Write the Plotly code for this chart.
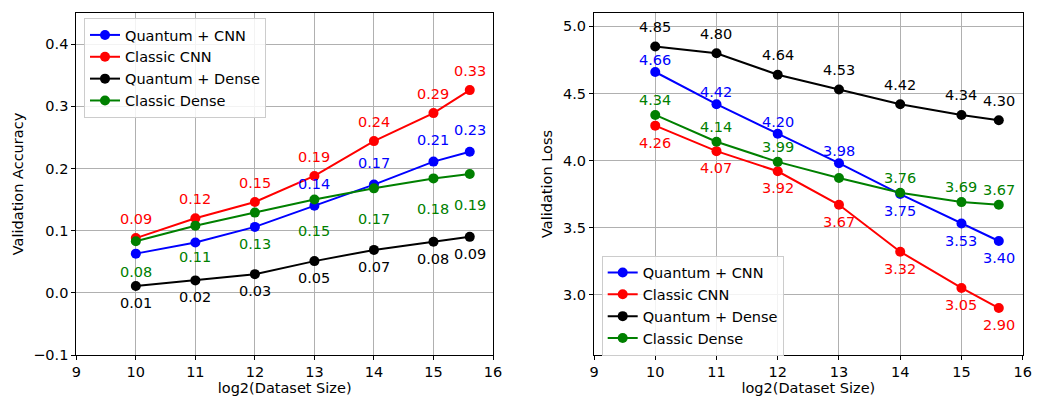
import numpy as np
import plotly.graph_objects as go

# ---------------- data ----------------
dataset_sizes = [1024, 2048, 4096, 8192, 16384, 32768, 50000]
series_names = ["Quantum + CNN", "Classic CNN", "Quantum + Dense", "Classic Dense"]

acc_quantum_cnn = [0.063, 0.081, 0.106, 0.140, 0.174, 0.211, 0.227]
acc_classic_cnn = [0.088, 0.120, 0.146, 0.188, 0.244, 0.289, 0.326]
acc_quantum_dense = [0.011, 0.020, 0.030, 0.051, 0.069, 0.082, 0.090]
acc_classic_dense = [0.083, 0.108, 0.129, 0.150, 0.168, 0.184, 0.191]

loss_quantum_cnn = [4.66, 4.42, 4.20, 3.98, 3.75, 3.53, 3.40]
loss_classic_cnn = [4.26, 4.07, 3.92, 3.67, 3.32, 3.05, 2.90]
loss_quantum_dense = [4.85, 4.80, 4.64, 4.53, 4.42, 4.34, 4.30]
loss_classic_dense = [4.34, 4.14, 3.99, 3.87, 3.76, 3.69, 3.67]

# which value labels are visible in the original
acc_label_shown = [
    [False, False, False, True, True, True, True],
    [True] * 7,
    [True] * 7,
    [True] * 7,
]
loss_label_shown = [
    [True] * 7,
    [True] * 7,
    [True] * 7,
    [True, True, True, False, True, True, True],
]

x_ticks = [9, 10, 11, 12, 13, 14, 15, 16]
acc_ticks = [-0.1, 0.0, 0.1, 0.2, 0.3, 0.4]
loss_ticks = [3.0, 3.5, 4.0, 4.5, 5.0]

# ---------------- style ----------------
colors = ["#0000ff", "#ff0000", "#000000", "#008000"]
# vertical pixel offsets of value labels (positive = above)
acc_offsets = [[22] * 7, [19] * 7, [-17] * 7, [-31] * 7]
loss_offsets = [[12, 12, 12, 12, -17, -17, -17], [-17] * 7, [19.5] * 7, [15] * 7]

W, H = 1037, 398
FONT = "DejaVu Sans"
FS = 14.5
x = np.log2(dataset_sizes)

fig = go.Figure()

acc_data = [acc_quantum_cnn, acc_classic_cnn, acc_quantum_dense, acc_classic_dense]
loss_data = [loss_quantum_cnn, loss_classic_cnn, loss_quantum_dense, loss_classic_dense]

for i, name in enumerate(series_names):
    fig.add_trace(go.Scatter(
        x=x, y=acc_data[i], mode="lines+markers", name=name,
        line=dict(color=colors[i], width=2),
        marker=dict(color=colors[i], size=10),
        xaxis="x", yaxis="y", legend="legend",
    ))
for i, name in enumerate(series_names):
    fig.add_trace(go.Scatter(
        x=x, y=loss_data[i], mode="lines+markers", name=name,
        line=dict(color=colors[i], width=2),
        marker=dict(color=colors[i], size=10),
        xaxis="x2", yaxis="y2", legend="legend2",
    ))

annotations = []
for i in range(4):
    for j in range(len(x)):
        if acc_label_shown[i][j]:
            annotations.append(dict(
                x=x[j], y=acc_data[i][j], xref="x", yref="y",
                text=f"{acc_data[i][j]:.2f}", showarrow=False,
                yshift=acc_offsets[i][j], font=dict(family=FONT, size=FS, color=colors[i]),
            ))
        if loss_label_shown[i][j]:
            annotations.append(dict(
                x=x[j], y=loss_data[i][j], xref="x2", yref="y2",
                text=f"{loss_data[i][j]:.2f}", showarrow=False,
                yshift=loss_offsets[i][j], font=dict(family=FONT, size=FS, color=colors[i]),
            ))

axis_common = dict(
    showline=True, mirror=True, linecolor="black", linewidth=1,
    ticks="outside", ticklen=4, tickwidth=1, tickcolor="black",
    showgrid=True, gridcolor="#b0b0b0", gridwidth=0.8,
    zeroline=False, automargin=False,
    tickfont=dict(family=FONT, size=FS, color="black"),
)

ytop = 1 - 13 / H
ybot = 1 - 355 / H

fig.update_layout(
    width=W, height=H,
    margin=dict(l=0, r=0, t=0, b=0),
    paper_bgcolor="white", plot_bgcolor="white",
    template="none",
    font=dict(family=FONT, size=FS, color="black"),
    xaxis=dict(domain=[76.3 / W, 493 / W], range=[9, 16], tickvals=x_ticks,
               anchor="y",
               title=dict(text="log2(Dataset Size)", standoff=3,
                          font=dict(family=FONT, size=FS)), **axis_common),
    yaxis=dict(domain=[ybot, ytop], range=[-0.1, 0.45], tickvals=acc_ticks,
               tickformat=".1f", anchor="x",
               title=dict(text="Validation Accuracy", standoff=6,
                          font=dict(family=FONT, size=FS)), **axis_common),
    xaxis2=dict(domain=[594 / W, 1022.7 / W], range=[9, 16], tickvals=x_ticks,
                anchor="y2",
                title=dict(text="log2(Dataset Size)", standoff=3,
                           font=dict(family=FONT, size=FS)), **axis_common),
    yaxis2=dict(domain=[ybot, ytop], range=[2.55, 5.10], tickvals=loss_ticks,
                tickformat=".1f", anchor="x2",
                title=dict(text="Validation Loss", standoff=6,
                           font=dict(family=FONT, size=FS)), **axis_common),
    legend=dict(x=84 / W, y=1 - 18 / H, xanchor="left", yanchor="top",
                bgcolor="rgba(255,255,255,0.85)", bordercolor="#cccccc", borderwidth=1,
                font=dict(family=FONT, size=FS), tracegroupgap=0, itemwidth=30),
    legend2=dict(x=601.7 / W, y=1 - 255.5 / H, xanchor="left", yanchor="top",
                 bgcolor="rgba(255,255,255,0.85)", bordercolor="#cccccc", borderwidth=1,
                 font=dict(family=FONT, size=FS), tracegroupgap=0, itemwidth=30),
    annotations=annotations,
    showlegend=True,
)

fig.write_html("out.html")
